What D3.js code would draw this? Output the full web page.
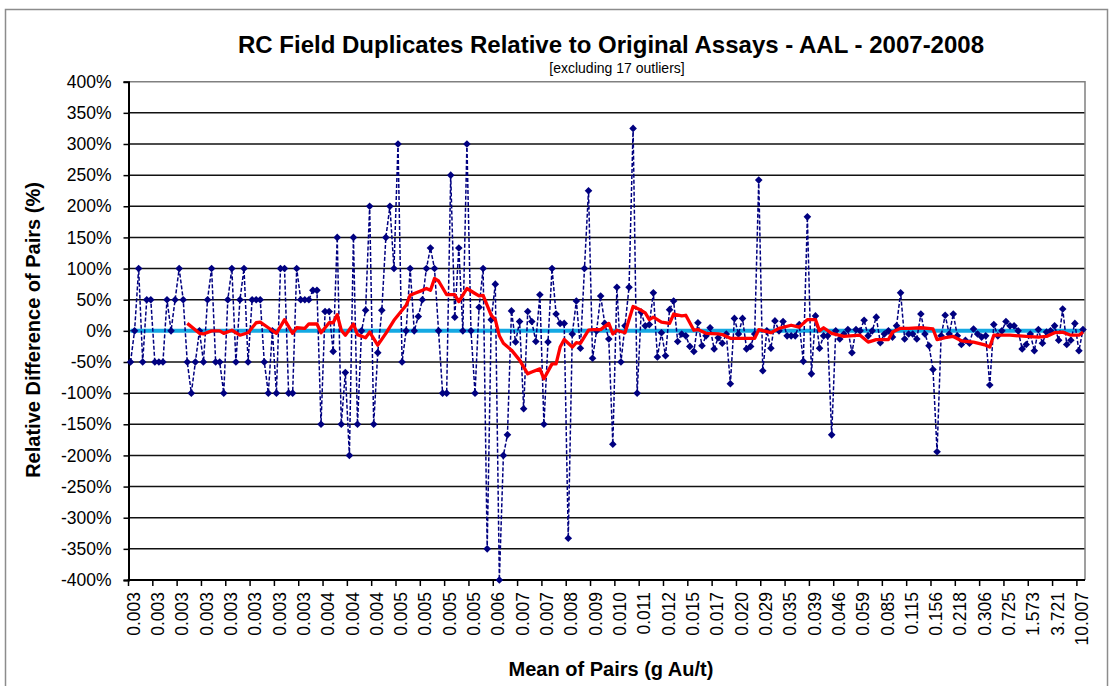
<!DOCTYPE html>
<html>
<head>
<meta charset="utf-8">
<script src="https://cdn.jsdelivr.net/npm/d3@7"></script>
<style>
  body { margin: 0; background: #fff; }
  svg { display: block; }
  text { font-family: Arial, "Liberation Sans", sans-serif; }
</style>
</head>
<body>
<svg id="chart" width="1111" height="686"></svg>
<script>
// Relative difference of each duplicate pair (%), pairs sorted by mean grade
const relDiff = [
  -50, 0, 100, -50, 50, 50, -50, -50, -50, 50,
  0, 50, 100, 50, -50, -100, -50, 0, -50, 50,
  100, -50, -50, -100, 50, 100, -50, 50, 100, -50,
  50, 50, 50, -50, -100, 0, -100, 100, 100, -100,
  -100, 100, 50, 50, 50, 65, 65, -150, 31, 31,
  -33, 150, -150, -67, -200, 150, -150, 0, 33, 200,
  -150, -35, 33, 150, 200, 100, 300, -50, 0, 100,
  0, 23, 50, 100, 133, 100, 0, -100, -100, 250,
  22, 133, 0, 300, 0, -100, 38, 100, -350, 18,
  75, -400, -200, -167, 32, -18, 15, -125, 31, 15,
  -17, 58, -150, -18, 100, 27, 12, 12, -333, -5,
  48, -28, 100, 225, -44, 0, 56, 12, -13, -182,
  70, -50, 8, 70, 325, -100, 30, 8, 10, 61,
  -42, -3, -40, 34, 48, -17, -5, -8, -25, -33,
  13, -24, -8, 5, -29, -11, -20, -5, -85, 20,
  -5, 20, -29, -25, -5, 242, -64, 0, -28, 16,
  0, 15, -8, -8, -8, 10, -49, 183, -69, 24,
  -28, -8, -8, -167, 0, -13, -5, 2, -35, 2,
  0, 17, -8, 0, 22, -19, -5, 0, -10, 8,
  61, -13, -5, -5, -13, 27, -5, -24, -62, -194,
  -8, 25, -5, 27, -8, -22, -15, -20, 3, -5,
  -10, -8, -87, 10, -8, 0, 15, 8, 8, 0,
  -29, -22, -5, -32, 2, -20, -2, 0, 8, -15,
  35, -22, -15, 12, -32, 2
];

// Mean of pairs (g Au/t), labelled on every sixth pair
const labelEvery = 6;
const meanLabels = [
  "0.003", "0.003", "0.003", "0.003", "0.003", "0.003", "0.003", "0.003",
  "0.004", "0.004", "0.004", "0.005", "0.005", "0.005", "0.005", "0.006",
  "0.007", "0.007", "0.008", "0.009", "0.010", "0.011", "0.012", "0.015",
  "0.017", "0.020", "0.029", "0.035", "0.039", "0.046", "0.059", "0.085",
  "0.115", "0.156", "0.218", "0.306", "0.725", "1.573", "3.721", "10.007"
];

// Moving-average trend of the relative difference (pair index, %)
const trendIdx = [
  14, 17, 18, 20, 22, 23, 25, 27, 29, 31, 32, 34, 36, 38, 40, 41, 43, 44, 46, 47,
  49, 50, 51, 52, 53, 55, 56, 58, 59, 61, 63, 65, 67, 68, 69, 70, 72, 73, 74, 75,
  76, 78, 80, 81, 83, 85, 86, 87, 89, 90, 91, 92, 94, 96, 98, 99, 101, 102, 104, 105,
  106, 107, 109, 110, 111, 113, 114, 116, 118, 119, 120, 122, 124, 126, 127, 128, 129, 131, 133, 134,
  136, 137, 139, 140, 142, 145, 146, 148, 154, 155, 158, 160, 163, 165, 167, 169, 170, 171, 173, 176,
  180, 182, 184, 187, 188, 190, 192, 195, 198, 199, 201, 203, 205, 208, 211, 212, 213, 217, 221, 224,
  226, 228, 230, 232, 234, 235
];
const trendPct = [
  12, -4, -5, 0, 0, -4, 1, -7, -3, 13, 14, 5, -4, 18, -4, 5, 4, 11, 11, -3,
  13, 13, 26, 1, -7, 11, -6, -11, -2, -23, -4, 17, 33, 41, 57, 60, 65, 68, 65, 84,
  80, 58, 58, 47, 68, 60, 56, 57, 25, 18, -8, -20, -31, -47, -69, -66, -61, -77, -53, -53,
  -26, -14, -26, -19, -20, 1, 2, 2, 12, -5, 1, -3, 39, 33, 29, 18, 22, 14, 12, 27,
  24, 25, 1, 2, -4, -5, -6, -12, -12, 2, -3, 4, 9, 6, 18, 18, 0, 5, -4, -9,
  -7, -18, -14, -14, -2, 4, 4, 5, 3, -14, -11, -9, -16, -18, -23, -26, -7, -7, -9, -10,
  -9, -3, -2, -7, -7, -2
];

const yTicks = d3.range(-400, 401, 50);

const plot = { left: 128.5, right: 1085, top: 81.7, bottom: 580 };
const svg = d3.select("#chart");

// outer chart frame
svg.append("rect")
  .attr("x", 5.5).attr("y", 9.5)
  .attr("width", 1102).attr("height", 720)
  .attr("fill", "#fff").attr("stroke", "#8c8c8c").attr("stroke-width", 1.5);

const x = d3.scaleLinear()
  .domain([-0.5, relDiff.length - 0.5])
  .range([plot.left, plot.right]);
const y = d3.scaleLinear()
  .domain([-400, 400])
  .range([plot.bottom, plot.top]);

// horizontal gridlines
svg.append("g")
  .selectAll("line")
  .data(yTicks.filter(d => d > -400 && d < 400))
  .join("line")
  .attr("x1", plot.left).attr("x2", plot.right)
  .attr("y1", d => y(d)).attr("y2", d => y(d))
  .attr("stroke", "#111").attr("stroke-width", 1.5);

// plot-area border (top and right)
svg.append("path")
  .attr("d", `M${plot.left},${y(400)}H${plot.right}V${plot.bottom}`)
  .attr("fill", "none").attr("stroke", "#808080").attr("stroke-width", 1.5);

// y axis
const yAxis = svg.append("g")
  .attr("transform", `translate(${plot.left},0)`)
  .call(d3.axisLeft(y).tickValues(yTicks).tickFormat(d => d + "%").tickSize(5).tickPadding(12));
yAxis.select(".domain").attr("stroke", "#000").attr("stroke-width", 2);
yAxis.selectAll(".tick line").attr("stroke", "#000").attr("stroke-width", 1.5);
yAxis.selectAll(".tick text")
  .attr("font-size", 17.5).attr("fill", "#000")
  .attr("font-family", "Arial, 'Liberation Sans', sans-serif");

// x axis line, boundary ticks and rotated category labels
const labelIdx = meanLabels.map((_, k) => k * labelEvery);
const xAxis = svg.append("g");
xAxis.append("line")
  .attr("x1", plot.left - 1).attr("x2", plot.right)
  .attr("y1", plot.bottom).attr("y2", plot.bottom)
  .attr("stroke", "#000").attr("stroke-width", 2);
xAxis.selectAll("line.tk")
  .data(labelIdx)
  .join("line")
  .attr("class", "tk")
  .attr("x1", d => x(d - 0.5)).attr("x2", d => x(d - 0.5))
  .attr("y1", plot.bottom).attr("y2", plot.bottom + 6)
  .attr("stroke", "#000").attr("stroke-width", 1.5);
xAxis.selectAll("text")
  .data(labelIdx)
  .join("text")
  .attr("transform", d => `translate(${x(d) + 3},${plot.bottom + 12}) rotate(-90)`)
  .attr("text-anchor", "end")
  .attr("dy", "0.35em")
  .attr("font-size", 17.5)
  .text((d, k) => meanLabels[k]);

// zero reference line
const zeroLine = d3.line().x((d, i) => x(i)).y(() => y(0));
svg.append("path")
  .datum(relDiff)
  .attr("d", zeroLine)
  .attr("fill", "none").attr("stroke", "#14A9E3").attr("stroke-width", 4);

// relative difference series: dashed line with diamond markers
const diffLine = d3.line().x((d, i) => x(i)).y(d => y(d));
svg.append("path")
  .datum(relDiff)
  .attr("d", diffLine)
  .attr("fill", "none").attr("stroke", "#000080")
  .attr("stroke-width", 1.5).attr("stroke-dasharray", "4,2");

const r = 3.8;
svg.append("g")
  .selectAll("path")
  .data(relDiff)
  .join("path")
  .attr("transform", (d, i) => `translate(${x(i)},${y(d)})`)
  .attr("d", `M0,${-r}L${r},0L0,${r}L${-r},0Z`)
  .attr("fill", "#000080");

// moving-average trend line
const trendLine = d3.line().x(d => x(d[0])).y(d => y(d[1]));
svg.append("path")
  .datum(trendIdx.map((d, k) => [d, trendPct[k]]))
  .attr("d", trendLine)
  .attr("fill", "none").attr("stroke", "#FF0000")
  .attr("stroke-width", 3.3).attr("stroke-linejoin", "round");

// titles
svg.append("text")
  .attr("x", 611).attr("y", 53)
  .attr("text-anchor", "middle")
  .attr("font-size", 24).attr("font-weight", "bold")
  .text("RC Field Duplicates Relative to Original Assays - AAL - 2007-2008");
svg.append("text")
  .attr("x", 617).attr("y", 73)
  .attr("text-anchor", "middle")
  .attr("font-size", 14)
  .text("[excluding 17 outliers]");
svg.append("text")
  .attr("x", 611).attr("y", 676)
  .attr("text-anchor", "middle")
  .attr("font-size", 20).attr("font-weight", "bold")
  .text("Mean of Pairs (g  Au/t)");
svg.append("text")
  .attr("transform", `translate(40,330) rotate(-90)`)
  .attr("text-anchor", "middle")
  .attr("font-size", 20).attr("font-weight", "bold")
  .text("Relative Difference  of Pairs (%)");
</script>
</body>
</html>
